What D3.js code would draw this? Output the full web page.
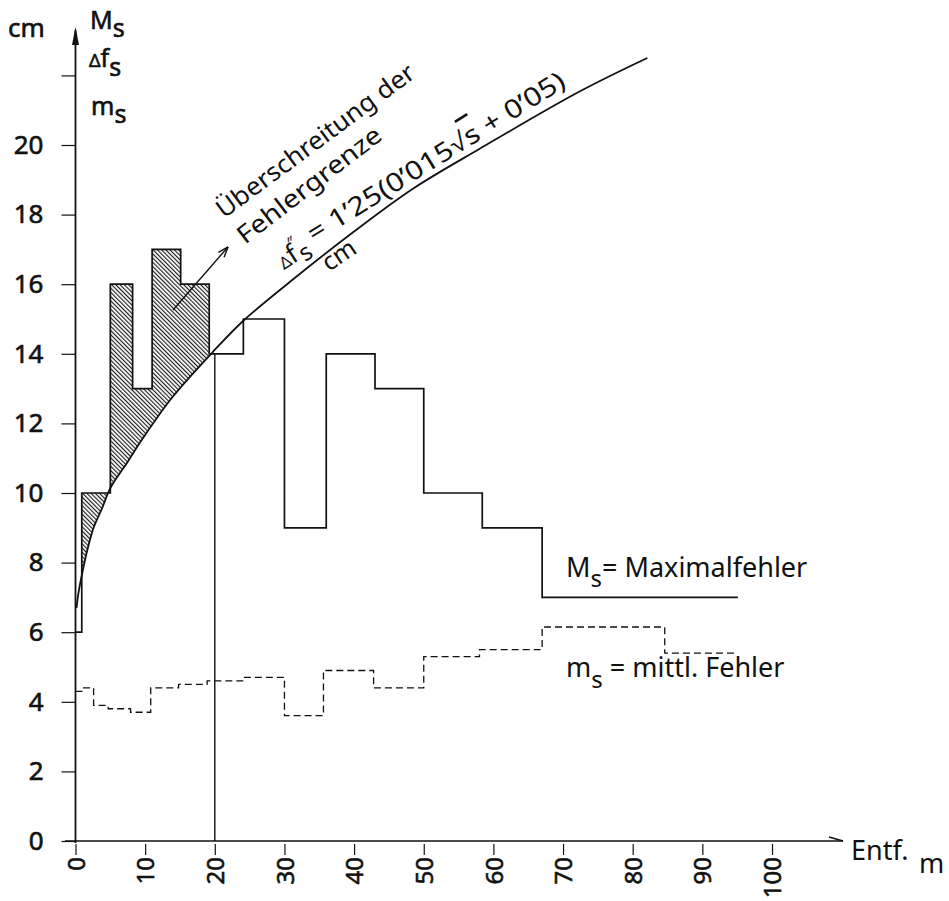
<!DOCTYPE html>
<html>
<head>
<meta charset="utf-8">
<script src="https://cdn.jsdelivr.net/npm/d3@7"></script>
<style>
  body { margin: 0; background: #fff; }
  text { font-family: "Noto Sans", sans-serif; fill: #111; }
  .heavy { stroke: #111; stroke-width: 0.6; }
</style>
</head>
<body>
<svg id="chart" width="949" height="901"></svg>
<script>
// Maximalfehler M_s: Beginn jeder Stufe (m) und Wert (cm)
const maxStart = [0, 0.9, 5.0, 8.2, 11.0, 15.1, 19.2, 24.1, 30, 36, 43, 50, 58.4, 67]
const maxVal   = [6, 10, 16, 13, 17, 16, 14, 15, 9, 14, 13, 10, 9, 7]
const maxEnd = 95.1

// mittlerer Fehler m_s
const meanStart = [0, 0.9, 2.6, 4.7, 7.9, 10.8, 14.8, 18.9, 24, 30, 35.6, 42.8, 50, 58, 67, 84.6]
const meanVal   = [4.3, 4.4, 3.9, 3.8, 3.7, 4.4, 4.5, 4.6, 4.7, 3.6, 4.9, 4.4, 5.3, 5.5, 6.15, 5.4]
const meanEnd = 95.1

// Fehlergrenze, Punkte
const limitS = [0.15, 0.43, 1.0, 1.7, 2.6, 3.9, 5.0, 7.5, 9.6, 13.9, 19.7, 24.1, 31.3, 39.9, 48.5, 58.1, 72.5, 82.1]
const limitV = [6.7, 7.13, 7.73, 8.36, 9.0, 9.6, 10.14, 10.9, 11.55, 12.75, 14.05, 14.95, 16.15, 17.5, 18.75, 19.9, 21.55, 22.5]

const xTicks = [0, 10, 20, 30, 40, 50, 60, 70, 80, 90, 100]
const yTicks = [0, 2, 4, 6, 8, 10, 12, 14, 16, 18, 20, 22]

const svg = d3.select("#chart")
const x = d3.scaleLinear().domain([0, 100]).range([75.5, 772])
const y = d3.scaleLinear().domain([0, 20]).range([841, 145])

const maxPts = maxStart.map((s, i) => [s, maxVal[i]]).concat([[maxEnd, maxVal[maxVal.length - 1]]])
const meanPts = meanStart.map((s, i) => [s, meanVal[i]]).concat([[meanEnd, meanVal[meanVal.length - 1]]])
const limitPts = limitS.map((s, i) => [s, limitV[i]])
const smooth = d3.curveCatmullRom.alpha(0.5)

// hatch pattern
const defs = svg.append("defs")
defs.append("pattern")
  .attr("id", "hatch")
  .attr("patternUnits", "userSpaceOnUse")
  .attr("width", 3.0).attr("height", 3.0)
  .attr("patternTransform", "rotate(-45)")
  .append("line")
  .attr("x1", 0.6).attr("y1", 0).attr("x2", 0.6).attr("y2", 3.0)
  .attr("stroke", "#111").attr("stroke-width", 1.1)

defs.append("clipPath").attr("id", "underMax")
  .append("path")
  .attr("d", d3.area().curve(d3.curveStepAfter)
    .x(d => x(d[0])).y0(y(0)).y1(d => y(d[1]))(maxPts))

// Überschreitung: zwischen Kurve und Stufenlinie bis 20 m
svg.append("path")
  .attr("clip-path", "url(#underMax)")
  .attr("fill", "url(#hatch)")
  .attr("d", d3.area().curve(smooth)
    .x(d => x(d[0])).y0(d => y(d[1])).y1(0)(limitPts.filter(d => d[0] <= 19.7)))

// axes
const xAxis = svg.append("g")
  .attr("transform", `translate(0,${y(0)})`)
  .call(d3.axisBottom(x).tickValues(xTicks).tickSize(14))
xAxis.select(".domain").remove()
xAxis.selectAll(".tick line").attr("y1", 3).attr("stroke", "#111").attr("stroke-width", 1.2)
xAxis.selectAll(".tick text")
  .attr("class", "heavy")
  .attr("transform", "rotate(-90)")
  .attr("x", -16).attr("y", 0).attr("dy", "0.36em")
  .attr("text-anchor", "end")
  .attr("font-size", 24)
  .attr("font-family", "Noto Sans")

const yAxis = svg.append("g")
  .attr("transform", `translate(${x(0)},0)`)
  .call(d3.axisLeft(y).tickValues(yTicks).tickSize(14).tickPadding(18)
    .tickFormat(d => d === 22 ? "" : d))
yAxis.select(".domain").remove()
yAxis.selectAll(".tick line").attr("stroke", "#111").attr("stroke-width", 1.2)
yAxis.selectAll(".tick text").attr("class", "heavy").attr("font-size", 26).attr("font-family", "Noto Sans")

// axis lines with arrows
svg.append("line").attr("x1", 65).attr("x2", 843).attr("y1", y(0)).attr("y2", y(0))
  .attr("stroke", "#111").attr("stroke-width", 1.6)
svg.append("line").attr("x1", 829).attr("x2", 843).attr("y1", y(0) - 4).attr("y2", y(0))
  .attr("stroke", "#111").attr("stroke-width", 1.6)
svg.append("line").attr("x1", x(0)).attr("x2", x(0)).attr("y1", y(0) + 2).attr("y2", 30)
  .attr("stroke", "#111").attr("stroke-width", 1.8)
svg.append("path").attr("d", `M${x(0)},27 L${x(0) - 3.5},45 L${x(0) + 3.5},45 Z`)
  .attr("fill", "#111")

// vertical at 20 m
svg.append("line").attr("x1", x(20)).attr("x2", x(20)).attr("y1", y(0)).attr("y2", y(14))
  .attr("stroke", "#111").attr("stroke-width", 1.4)

// Fehlergrenze
svg.append("path")
  .attr("d", d3.line().curve(smooth).x(d => x(d[0])).y(d => y(d[1]))(limitPts))
  .attr("fill", "none").attr("stroke", "#111").attr("stroke-width", 1.8)

// M_s
svg.append("path")
  .attr("d", d3.line().curve(d3.curveStepAfter).x(d => x(d[0])).y(d => y(d[1]))(maxPts))
  .attr("fill", "none").attr("stroke", "#111").attr("stroke-width", 1.7)

// m_s
svg.append("path")
  .attr("d", d3.line().curve(d3.curveStepAfter).x(d => x(d[0])).y(d => y(d[1]))(meanPts))
  .attr("fill", "none").attr("stroke", "#111").attr("stroke-width", 1.3)
  .attr("stroke-dasharray", "7,4")

// pointer arrow
const a0 = [x(14.0), y(15.26)], a1 = [x(21.9), y(17.07)]
svg.append("line").attr("x1", a0[0]).attr("y1", a0[1]).attr("x2", a1[0]).attr("y2", a1[1])
  .attr("stroke", "#111").attr("stroke-width", 1.4)
const ang = Math.atan2(a1[1] - a0[1], a1[0] - a0[0])
;[-0.35, 0.35].forEach(o => {
  svg.append("line").attr("x1", a1[0]).attr("y1", a1[1])
    .attr("x2", a1[0] - 11 * Math.cos(ang + o)).attr("y2", a1[1] - 11 * Math.sin(ang + o))
    .attr("stroke", "#111").attr("stroke-width", 1.4)
})

// axis titles
svg.append("text").attr("x", 8).attr("y", 37).attr("font-size", 26).attr("class", "heavy").text("cm")
const t1 = svg.append("text").attr("x", 90).attr("y", 29).attr("font-size", 25).attr("class", "heavy")
t1.append("tspan").text("M")
t1.append("tspan").attr("dy", 8).text("s")
const t2 = svg.append("text").attr("x", 89).attr("y", 67).attr("font-size", 25).attr("class", "heavy")
t2.append("tspan").attr("font-size", 18).text("Δ")
t2.append("tspan").text("f")
t2.append("tspan").attr("dy", 9).text("s")
const t3 = svg.append("text").attr("x", 91).attr("y", 115).attr("font-size", 25).attr("class", "heavy")
t3.append("tspan").text("m")
t3.append("tspan").attr("dy", 8).text("s")

// Entf. m
svg.append("text").attr("x", 851).attr("y", 860).attr("font-size", 27).text("Entf.")
svg.append("text").attr("x", 919).attr("y", 873).attr("font-size", 27).text("m")

// series labels
const l1 = svg.append("text").attr("x", 566).attr("y", 577).attr("font-size", 27)
l1.append("tspan").text("M")
l1.append("tspan").attr("dy", 10).attr("font-size", 24).text("s")
l1.append("tspan").attr("dy", -10).text("= Maximalfehler")
const l2 = svg.append("text").attr("x", 566).attr("y", 677).attr("font-size", 27)
l2.append("tspan").text("m")
l2.append("tspan").attr("dy", 11).attr("font-size", 24).text("s")
l2.append("tspan").attr("dy", -11).text(" = mittl. Fehler")

// slanted annotation
svg.append("text").attr("transform", "translate(224,219) rotate(-36.5)")
  .attr("font-size", 25).attr("textLength", 240).attr("lengthAdjust", "spacingAndGlyphs")
  .text("Überschreitung der")
svg.append("text").attr("transform", "translate(245,245) rotate(-37.5)")
  .attr("font-size", 25).attr("textLength", 175).attr("lengthAdjust", "spacingAndGlyphs")
  .text("Fehlergrenze")
const f = svg.append("text").attr("transform", "translate(284,270) rotate(-33)").attr("font-size", 26)
f.append("tspan").attr("font-size", 17).text("Δ")
f.append("tspan").text("f")
f.append("tspan").attr("dy", -13).attr("dx", -2).attr("font-size", 17).text("″")
f.append("tspan").attr("dy", 18).attr("dx", -3).attr("font-size", 24).text("s")
const f2 = svg.append("text").attr("transform", "translate(314,243) rotate(-31.8)")
  .attr("font-size", 26).attr("textLength", 298).attr("lengthAdjust", "spacingAndGlyphs")
f2.append("tspan").text("= 1’25(0’015√")
f2.append("tspan").attr("text-decoration", "overline").text("s")
f2.append("tspan").text("  + 0’05)")
svg.append("text").attr("transform", "translate(329,272) rotate(-34)")
  .attr("font-size", 25).text("cm")
</script>
</body>
</html>
